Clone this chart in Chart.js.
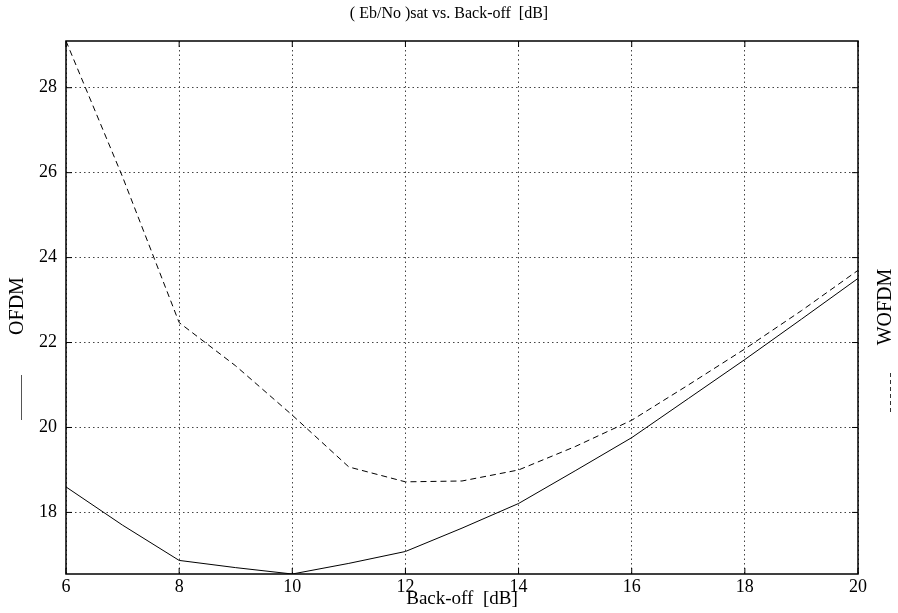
<!DOCTYPE html>
<html>
<head>
<meta charset="utf-8">
<script src="https://cdn.jsdelivr.net/npm/chart.js@4"></script>
<style>
html,body{margin:0;padding:0;background:#fff;}
#wrap{width:898px;height:613px;}
</style>
</head>
<body>
<div id="wrap"><canvas id="c" width="898" height="613"></canvas></div>
<script>
const backoff = [6,7,8,9,10,11,12,13,14,15,16,17,18,19,20];
const ofdm  = [18.6,17.7,16.87,16.7,16.55,16.8,17.08,17.63,18.21,18.98,19.76,20.68,21.6,22.55,23.51];
const wofdm = [29.1,25.9,22.47,21.45,20.29,19.07,18.72,18.74,19.0,19.55,20.17,21.0,21.85,22.75,23.7];
const xTicks = [6,8,10,12,14,16,18,20];
const yTicks = [18,20,22,24,26,28];
const titleText = '( Eb/No )sat vs. Back-off  [dB]';
const xLabel = 'Back-off  [dB]';
const series1Name = 'OFDM';
const series2Name = 'WOFDM';

const FONT = '"Liberation Serif", "Times New Roman", serif';

const frame = {
  id: 'frame',
  afterDraw(chart) {
    const {ctx, chartArea: a, scales} = chart;
    ctx.save();
    ctx.strokeStyle = '#000';
    ctx.lineWidth = 1.5;
    ctx.strokeRect(a.left, a.top, a.right - a.left, a.bottom - a.top);
    ctx.lineWidth = 1;
    const tl = 6;
    xTicks.forEach(v => {
      const px = scales.x.getPixelForValue(v);
      ctx.beginPath();
      ctx.moveTo(px, a.bottom); ctx.lineTo(px, a.bottom - tl);
      ctx.moveTo(px, a.top); ctx.lineTo(px, a.top + tl);
      ctx.stroke();
    });
    yTicks.forEach(v => {
      const py = scales.y.getPixelForValue(v);
      ctx.beginPath();
      ctx.moveTo(a.left, py); ctx.lineTo(a.left + tl, py);
      ctx.moveTo(a.right, py); ctx.lineTo(a.right - tl, py);
      ctx.stroke();
    });
    ctx.fillStyle = '#000';
    ctx.textAlign = 'center';
    ctx.textBaseline = 'middle';
    ctx.font = '16px ' + FONT;
    ctx.fillText(titleText, 449, 14);
    ctx.textBaseline = 'alphabetic';
    ctx.font = '19px ' + FONT;
    ctx.fillText(xLabel, 462, 604);
    ctx.textBaseline = 'middle';
    ctx.save();
    ctx.translate(18, 306);
    ctx.rotate(-Math.PI / 2);
    ctx.font = '20px ' + FONT;
    ctx.fillText(series1Name, 0, 0);
    ctx.restore();
    ctx.strokeStyle = '#555';
    ctx.lineWidth = 1;
    ctx.beginPath();
    ctx.moveTo(21.5, 375); ctx.lineTo(21.5, 420);
    ctx.stroke();
    ctx.save();
    ctx.translate(886, 307);
    ctx.rotate(-Math.PI / 2);
    ctx.font = '20px ' + FONT;
    ctx.fillText(series2Name, 0, 0);
    ctx.restore();
    ctx.strokeStyle = '#333';
    ctx.setLineDash([4, 3]);
    ctx.beginPath();
    ctx.moveTo(890.5, 373); ctx.lineTo(890.5, 415);
    ctx.stroke();
    ctx.restore();
  }
};

new Chart(document.getElementById('c'), {
  type: 'line',
  data: {
    datasets: [
      {
        label: series1Name,
        data: backoff.map((x, i) => ({x, y: ofdm[i]})),
        borderColor: '#000', borderWidth: 1, pointRadius: 0, fill: false, tension: 0
      },
      {
        label: series2Name,
        data: backoff.map((x, i) => ({x, y: wofdm[i]})),
        borderColor: '#000', borderWidth: 1, borderDash: [6, 4], pointRadius: 0, fill: false, tension: 0
      }
    ]
  },
  plugins: [frame],
  options: {
    responsive: false,
    animation: false,
    layout: { padding: { top: 41, right: 40, left: 0, bottom: 0 } },
    plugins: { legend: { display: false }, title: { display: false }, tooltip: { enabled: false } },
    scales: {
      x: {
        type: 'linear', min: 6, max: 20,
        afterBuildTicks: s => { s.ticks = xTicks.map(v => ({value: v})); },
        afterFit: s => { s.height = 39; },
        grid: { color: '#444', lineWidth: 1, drawTicks: false },
        border: { display: false, dash: [1.5, 3] },
        ticks: { color: '#000', font: { family: FONT, size: 18 }, padding: 2, maxRotation: 0, autoSkip: false }
      },
      y: {
        type: 'linear', min: 16.55, max: 29.1,
        afterBuildTicks: s => { s.ticks = yTicks.map(v => ({value: v})); },
        afterFit: s => { s.width = 66; },
        grid: { color: '#444', lineWidth: 1, drawTicks: false },
        border: { display: false, dash: [1.5, 3] },
        ticks: { color: '#000', font: { family: FONT, size: 18 }, padding: 9 }
      }
    }
  }
});
</script>
</body>
</html>
